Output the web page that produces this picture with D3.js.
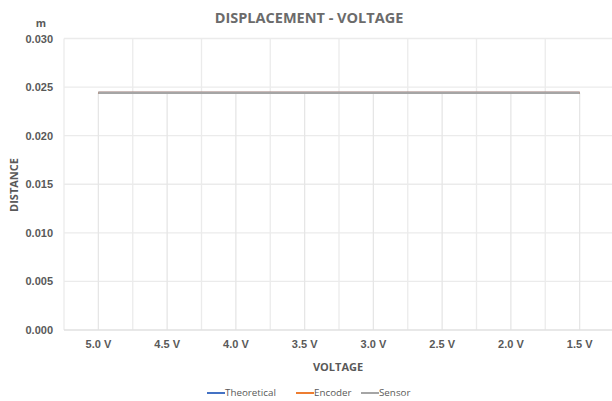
<!DOCTYPE html>
<html>
<head>
<meta charset="utf-8">
<script src="https://cdn.jsdelivr.net/npm/d3@7"></script>
<style>
  html, body { margin: 0; padding: 0; background: #fff; }
  svg { display: block; font-family: "Open Sans", "Liberation Sans", sans-serif; }
</style>
</head>
<body>
<svg id="chart" width="612" height="401"></svg>
<script>
// Categories (voltage steps) and measured displacement in metres
const categories = ["5.0 V", "4.5 V", "4.0 V", "3.5 V", "3.0 V", "2.5 V", "2.0 V", "1.5 V"];
const theoretical = [0.0244, 0.0244, 0.0244, 0.0244, 0.0244, 0.0244, 0.0244, 0.0244];
const encoder     = [0.0244, 0.0244, 0.0244, 0.0244, 0.0244, 0.0244, 0.0244, 0.0244];
const sensor      = [0.0244, 0.0244, 0.0244, 0.0244, 0.0244, 0.0244, 0.0244, 0.0244];
const yTicks = [0, 0.005, 0.010, 0.015, 0.020, 0.025, 0.030];
const seriesNames = ["Theoretical", "Encoder", "Sensor"];
const seriesColors = ["#4472c4", "#ed7d31", "#a5a5a5"];

const series = [theoretical, encoder, sensor].map((values, i) => ({
  name: seriesNames[i], color: seriesColors[i], values
}));

const svg = d3.select("#chart");
const plot = { left: 64, right: 614, top: 38.5, bottom: 330 };

const x = d3.scaleBand().domain(categories).range([plot.left, plot.right]).padding(0);
const y = d3.scaleLinear().domain([0, 0.030]).range([plot.bottom, plot.top]);

const textColor = "#595959";
const gridColor = "#ebebeb";

// horizontal gridlines
svg.append("g").selectAll("line").data(yTicks.filter(d => d > 0)).join("line")
  .attr("x1", plot.left).attr("x2", plot.right)
  .attr("y1", d => y(d)).attr("y2", d => y(d))
  .attr("stroke", gridColor).attr("stroke-width", 1.3);

// vertical gridlines at category boundaries
const bounds = categories.map(c => x(c)).concat([x(categories[categories.length - 1]) + x.bandwidth()]);
svg.append("g").selectAll("line").data(bounds).join("line")
  .attr("x1", d => d).attr("x2", d => d)
  .attr("y1", plot.top).attr("y2", plot.bottom)
  .attr("stroke", gridColor).attr("stroke-width", 1.3);

// drop lines from the highest point of each category down to the axis
const cx = c => x(c) + x.bandwidth() / 2;
svg.append("g").selectAll("line").data(categories).join("line")
  .attr("x1", c => cx(c)).attr("x2", c => cx(c))
  .attr("y1", (c, i) => y(d3.max(series, s => s.values[i])))
  .attr("y2", plot.bottom)
  .attr("stroke", "#e6e6e6").attr("stroke-width", 1.3);

// category axis line
svg.append("line")
  .attr("x1", plot.left).attr("x2", plot.right)
  .attr("y1", plot.bottom).attr("y2", plot.bottom)
  .attr("stroke", "#e0e0e0").attr("stroke-width", 1.3);

// y axis labels
const yAxis = d3.axisLeft(y).tickValues(yTicks).tickFormat(d3.format(".3f")).tickSize(0).tickPadding(0);
const yg = svg.append("g").attr("transform", `translate(${plot.left - 11},0)`).call(yAxis);
yg.select(".domain").remove();
yg.selectAll("text").attr("fill", textColor).attr("font-size", 11).attr("font-weight", 600);

// x axis labels
const xAxis = d3.axisBottom(x).tickSize(0).tickPadding(0);
const xg = svg.append("g").attr("transform", `translate(0,${plot.bottom + 10})`).call(xAxis);
xg.select(".domain").remove();
xg.selectAll("text").attr("fill", textColor).attr("font-size", 11).attr("font-weight", 600);

// series lines (later series drawn on top)
const line = d3.line().x((d, i) => cx(categories[i])).y(d => y(d));
svg.append("g").selectAll("path").data(series).join("path")
  .attr("d", s => line(s.values))
  .attr("fill", "none")
  .attr("stroke", s => s.color)
  .attr("stroke-width", 2.2);

// title and axis titles
svg.append("text").attr("x", 309).attr("y", 23).attr("text-anchor", "middle")
  .attr("fill", "#6b6b6b").attr("font-size", 14.5).attr("font-weight", 700)
  .text("DISPLACEMENT - VOLTAGE");
svg.append("text").attr("x", 41).attr("y", 27).attr("text-anchor", "middle")
  .attr("fill", textColor).attr("font-size", 10.5).attr("font-weight", 700).text("m");
svg.append("text").attr("transform", "translate(18,185) rotate(-90)").attr("text-anchor", "middle")
  .attr("fill", textColor).attr("font-size", 11).attr("font-weight", 700).text("DISTANCE");
svg.append("text").attr("x", 338).attr("y", 371).attr("text-anchor", "middle")
  .attr("fill", textColor).attr("font-size", 11).attr("font-weight", 700).text("VOLTAGE");

// legend
const legendX = [207, 296, 361];
const lg = svg.append("g").selectAll("g").data(series).join("g")
  .attr("transform", (s, i) => `translate(${legendX[i]},393)`);
lg.append("line").attr("x1", 0).attr("x2", 18).attr("y1", 0).attr("y2", 0)
  .attr("stroke", s => s.color).attr("stroke-width", 2);
lg.append("text").attr("x", 18).attr("y", 3.4).attr("fill", textColor)
  .attr("font-size", 9.8).text(s => s.name);
</script>
</body>
</html>
